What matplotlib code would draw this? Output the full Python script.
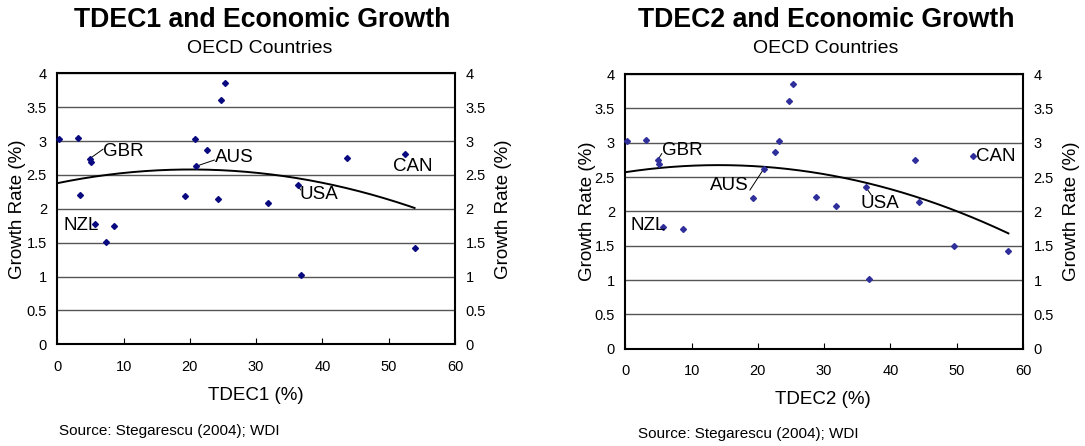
import matplotlib
matplotlib.use("Agg")
import matplotlib.pyplot as plt
import numpy as np

plt.rcParams["font.family"] = ["Liberation Sans", "DejaVu Sans"]

# growth rate (%) per OECD country, paired with each decentralisation index
tdec1 = [0.2, 3.1, 4.9, 5.1, 3.5, 5.7, 8.6, 7.3, 19.2, 20.8, 21.0,
         22.6, 24.3, 24.7, 25.3, 31.8, 36.3, 36.7, 43.7, 52.4, 53.9]
growth1 = [3.03, 3.05, 2.74, 2.69, 2.21, 1.77, 1.75, 1.51, 2.19, 3.03, 2.63,
           2.87, 2.14, 3.60, 3.85, 2.08, 2.35, 1.02, 2.75, 2.81, 1.42]

tdec2 = [0.2, 3.1, 4.9, 5.1, 5.7, 8.7, 19.2, 20.9, 22.6, 23.2, 24.7,
         25.3, 28.8, 31.8, 36.3, 36.7, 43.7, 44.3, 49.6, 52.4, 57.8]
growth2 = [3.02, 3.04, 2.75, 2.69, 1.77, 1.75, 2.19, 2.62, 2.87, 3.03, 3.60,
           3.85, 2.21, 2.08, 2.35, 1.01, 2.75, 2.14, 1.50, 2.81, 1.42]

# labelled countries: (name, point index, text pos, ha, leader end or None)
labels1 = [("GBR", 2, (6.9, 2.84), "left", (6.9, 2.88)),
           ("AUS", 10, (23.8, 2.76), "left", (23.7, 2.72)),
           ("NZL", 5, (1.0, 1.76), "left", None),
           ("USA", 16, (36.5, 2.21), "left", (36.7, 2.28)),
           ("CAN", 19, (50.7, 2.63), "left", None)]
labels2 = [("GBR", 2, (5.5, 2.88), "left", (5.5, 2.84)),
           ("AUS", 7, (18.6, 2.38), "right", (18.8, 2.31)),
           ("NZL", 4, (0.8, 1.79), "left", None),
           ("USA", 14, (35.5, 2.12), "left", (37.1, 2.24)),
           ("CAN", 19, (52.9, 2.80), "left", None)]

W, H = 1085, 446
panels = [
    # title, xlabel, x, y, labels, axes box in px (left, top, right, bottom),
    # marker colour, text anchors in px
    dict(title="TDEC1 and Economic Growth", xlabel="TDEC1 (%)",
         x=tdec1, y=growth1, labels=labels1,
         box=(57.3, 73.3, 455.0, 344.3), color="#0a0a80",
         title_xy=(262, 26.7), sub_xy=(259.5, 53.3), xl_xy=(256, 400),
         src_xy=(59.3, 435), yl=(18, 503)),
    dict(title="TDEC2 and Economic Growth", xlabel="TDEC2 (%)",
         x=tdec2, y=growth2, labels=labels2,
         box=(625.3, 74.0, 1023.0, 348.7), color="#2f2f9c",
         title_xy=(826.7, 26.7), sub_xy=(826, 53.3), xl_xy=(823, 404),
         src_xy=(638, 438), yl=(587, 1071)),
]

fig = plt.figure(figsize=(W / 100, H / 100), dpi=100)
yticks = np.arange(0, 4.01, 0.5)
ylabels = ["0", "0.5", "1", "1.5", "2", "2.5", "3", "3.5", "4"]

for p in panels:
    l, t, r, b = p["box"]
    ax = fig.add_axes([l / W, 1 - b / H, (r - l) / W, (b - t) / H])
    x = np.array(p["x"])
    y = np.array(p["y"])

    for g in yticks[1:]:
        ax.axhline(g, color="#555555", lw=1.0, zorder=1)

    ax.plot(x, y, "D", color=p["color"], ms=3.0, zorder=3, clip_on=False)

    # second-order polynomial trend over the data range
    coef = np.polyfit(x, y, 2)
    xs = np.linspace(0, x.max(), 200)
    ax.plot(xs, np.polyval(coef, xs), color="black", lw=1.4, zorder=2)

    for name, i, (tx, ty), ha, lead in p["labels"]:
        ax.text(tx, ty, name, fontsize=13.5, va="center", ha=ha, zorder=4)
        if lead is not None:
            ax.plot([x[i], lead[0]], [y[i], lead[1]], color="black",
                    lw=0.7, zorder=2)

    ax.set_xlim(0, 60)
    ax.set_ylim(0, 4)
    ax.set_xticks(range(0, 61, 10))
    ax.set_yticks(yticks)
    ax.set_yticklabels(ylabels)
    ax.tick_params(axis="x", direction="in", length=4, labelsize=10.5,
                   pad=11)
    ax.tick_params(axis="y", length=0, labelsize=10.5, pad=7.5,
                   labelright=True)
    for s in ax.spines.values():
        s.set_linewidth(1.5)

    fig.text(p["title_xy"][0] / W, 1 - p["title_xy"][1] / H, p["title"],
             fontsize=19.2, fontweight="bold", ha="center", va="baseline")
    fig.text(p["sub_xy"][0] / W, 1 - p["sub_xy"][1] / H, "OECD Countries",
             fontsize=14, ha="center", va="baseline")
    fig.text(p["xl_xy"][0] / W, 1 - p["xl_xy"][1] / H, p["xlabel"],
             fontsize=13.5, ha="center", va="baseline")
    fig.text(p["src_xy"][0] / W, 1 - p["src_xy"][1] / H,
             "Source: Stegarescu (2004); WDI", fontsize=11, ha="left",
             va="baseline")
    for lx in p["yl"]:
        fig.text(lx / W, 1 - (t + b) / 2 / H, "Growth Rate (%)",
                 fontsize=13.5, rotation=90, ha="center", va="center")

fig.savefig("out.png", dpi=100)
